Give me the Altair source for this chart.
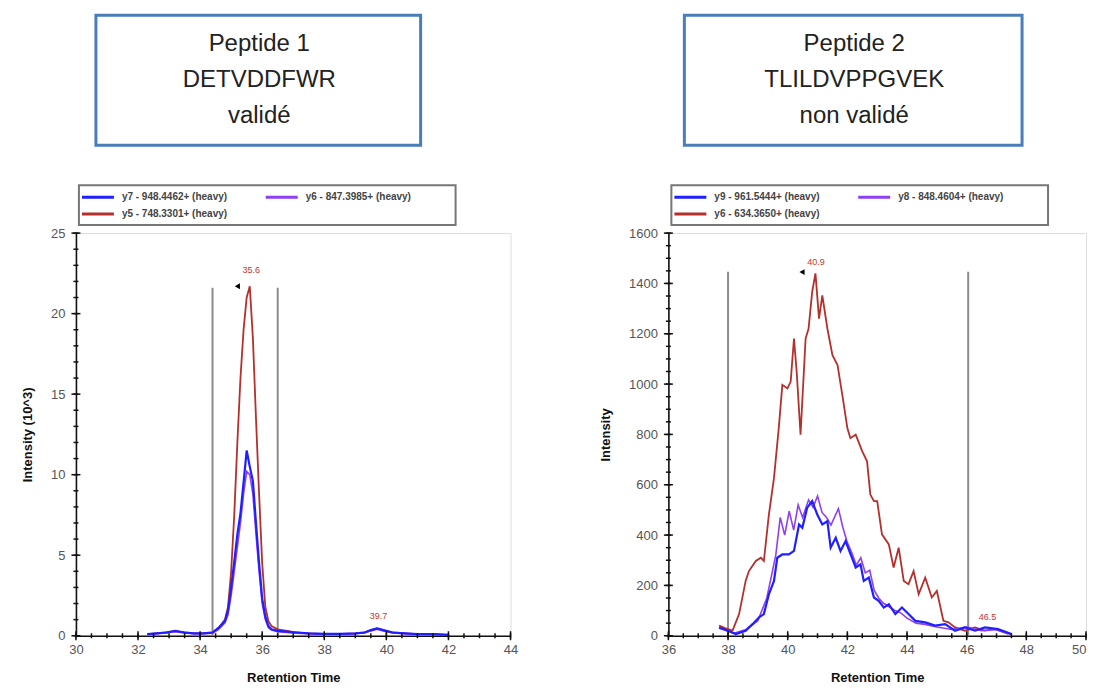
import altair as alt
import pandas as pd

# ---------------- Peptide 1 (DETVDDFWR) ----------------
p1_rt = [32.3, 32.6, 32.9, 33.2, 33.5, 33.8, 34.1, 34.4, 34.6, 34.8, 34.9, 35.0, 35.1, 35.2,
         35.3, 35.4, 35.5, 35.6, 35.7, 35.8, 35.9, 36.0, 36.1, 36.2, 36.3, 36.5, 36.8, 37.1,
         37.5, 38.0, 38.5, 39.0, 39.3, 39.5, 39.7, 39.9, 40.2, 40.6, 41.0, 41.5, 42.0]
p1_y5 = [0.1, 0.15, 0.2, 0.3, 0.2, 0.15, 0.15, 0.2, 0.5, 1.0, 1.8, 4.0, 7.5, 12.0,
         16.0, 19.0, 21.0, 21.7, 18.5, 13.5, 8.8, 4.5, 1.8, 0.9, 0.6, 0.4, 0.3, 0.2,
         0.15, 0.1, 0.1, 0.15, 0.2, 0.35, 0.45, 0.35, 0.2, 0.15, 0.1, 0.1, 0.05]
p1_y6 = [0.1, 0.12, 0.18, 0.25, 0.18, 0.12, 0.12, 0.15, 0.4, 0.8, 1.3, 2.5, 4.0, 5.5,
         7.0, 8.8, 10.2, 10.0, 8.8, 6.3, 4.0, 2.0, 1.0, 0.5, 0.35, 0.25, 0.2, 0.15,
         0.12, 0.1, 0.1, 0.12, 0.18, 0.3, 0.4, 0.3, 0.18, 0.12, 0.1, 0.08, 0.05]
p1_y7 = [0.1, 0.15, 0.2, 0.3, 0.2, 0.15, 0.15, 0.2, 0.5, 0.9, 1.6, 3.0, 4.6, 6.3,
         7.6, 9.5, 11.5, 10.5, 9.6, 7.0, 4.5, 2.3, 1.2, 0.6, 0.4, 0.3, 0.25, 0.2,
         0.15, 0.12, 0.12, 0.15, 0.2, 0.35, 0.45, 0.35, 0.2, 0.15, 0.1, 0.1, 0.05]
p1_labels = ["y7 - 948.4462+ (heavy)", "y6 - 847.3985+ (heavy)", "y5 - 748.3301+ (heavy)"]
p1_bounds = [34.4, 36.5]
p1_bound_top = 21.6
p1_ann_rt = [35.65, 39.75]
p1_ann_int = [22.7, 1.25]
p1_ann_text = ["35.6", "39.7"]
p1_arrow = [35.2, 21.7]
p1_title = "Peptide 1\nDETVDDFWR\nvalidé"

# ---------------- Peptide 2 (TLILDVPPGVEK) ----------------
p2_y6_rt = [37.70, 37.9, 38.15, 38.37, 38.59, 38.70, 38.93, 39.10, 39.20, 39.37, 39.54, 39.70,
            39.82, 39.99, 40.10, 40.21, 40.30, 40.43, 40.60, 40.70, 40.82, 40.93, 41.05, 41.16,
            41.33, 41.50, 41.67, 41.83, 42.00, 42.10, 42.28, 42.50, 42.66, 42.77, 42.89, 43.00,
            43.16, 43.39, 43.55, 43.72, 43.89, 44.05, 44.22, 44.39, 44.61, 44.83, 45.00, 45.22,
            45.39, 45.61, 45.94, 46.28, 46.61, 46.94, 47.40]
p2_y6 = [40, 30, 20, 86, 218, 257, 297, 310, 297, 482, 627, 825,
         997, 983, 1010, 1181, 1050, 799, 1181, 1221, 1366, 1440, 1260, 1353,
         1221, 1115, 1076, 957, 825, 785, 799, 733, 693, 561, 535, 535,
         403, 363, 271, 350, 218, 205, 257, 165, 231, 152, 178, 59,
         53, 33, 20, 33, 20, 26, 7]
p2_y9_rt = [37.70, 38.0, 38.26, 38.59, 38.82, 39.04, 39.20, 39.37, 39.54, 39.65, 39.82, 40.04,
            40.21, 40.38, 40.49, 40.65, 40.82, 40.99, 41.16, 41.33, 41.44, 41.61, 41.77, 41.94,
            42.11, 42.28, 42.44, 42.55, 42.72, 42.89, 43.05, 43.22, 43.39, 43.61, 43.83, 44.05,
            44.28, 44.61, 44.94, 45.28, 45.61, 45.94, 46.28, 46.61, 47.05, 47.50]
p2_y9 = [33, 20, 7, 20, 46, 73, 86, 165, 218, 310, 323, 323,
         337, 442, 429, 508, 535, 482, 442, 455, 350, 389, 337, 376,
         323, 271, 284, 218, 231, 152, 139, 112, 125, 86, 112, 86,
         59, 53, 40, 46, 20, 33, 20, 33, 26, 7]
p2_y8_rt = [37.7, 38.2, 38.6, 39.0, 39.3, 39.6, 39.75, 39.9, 40.05, 40.2, 40.35, 40.5, 40.7,
            40.85, 41.0, 41.15, 41.3, 41.45, 41.7, 41.85, 42.0, 42.15, 42.3, 42.45, 42.6, 42.75,
            42.9, 43.05, 43.2, 43.4, 43.6, 43.8, 44.0, 44.3, 44.6, 45.0, 45.5, 46.0, 46.5, 47.0, 47.5]
p2_y8 = [30, 10, 25, 60, 150, 320, 470, 400, 495, 420, 520, 470, 540,
         510, 555, 490, 470, 440, 505, 430, 370, 330, 280, 310, 250, 260,
         180, 150, 130, 115, 100, 90, 70, 50, 45, 35, 25, 35, 20, 25, 5]
p2_labels = ["y9 - 961.5444+ (heavy)", "y8 - 848.4604+ (heavy)", "y6 - 634.3650+ (heavy)"]
p2_bounds = [38.0, 46.05]
p2_bound_top = 1446
p2_ann_rt = [40.95, 46.7]
p2_ann_int = [1485, 75]
p2_ann_text = ["40.9", "46.5"]
p2_arrow = [40.48, 1445]
p2_title = "Peptide  2\nTLILDVPPGVEK\nnon validé"

BLUE = "#1f1fff"
PURPLE = "#9040ee"
RED = "#b3302c"
H = 403


def frame(rt, vals, series):
    return pd.DataFrame({"rt": rt, "intensity": vals, "series": series})


def panel(series_list, xdom, ydom, xticks, xminor, yticks, yminor, width, ytitle,
          bounds, btop, ann_rt, ann_int, ann_text, arrow, title, labels, box_x, box_w,
          last_right=False):
    xs = alt.Scale(domain=xdom, nice=False, zero=False)
    ys = alt.Scale(domain=ydom, nice=False, zero=False)
    xaxis_kw = dict(
        values=xticks, title="Retention Time", ticks=False, tickSize=0, grid=False,
        labelFlush=False, labelOverlap=False,
        format="d", domainColor="#111", domainWidth=1.6, labelColor="#555", labelFontSize=13,
        labelFont="Liberation Sans", labelPadding=8, titleFont="Liberation Sans",
        titleFontSize=13, titleFontWeight="bold", titleColor="#111", titlePadding=15)
    if last_right:
        xaxis_kw["labelAlign"] = alt.ExprRef(
            expr="datum.value == %d ? 'right' : 'center'" % xdom[1])
    X = alt.X("rt:Q", scale=xs, axis=alt.Axis(**xaxis_kw))
    Y = alt.Y("intensity:Q", scale=ys, axis=alt.Axis(
        values=yticks, title=ytitle, ticks=False, tickSize=0, grid=False,
        labelFlush=False, labelOverlap=False,
        format="d", domainColor="#111", domainWidth=1.6, labelColor="#555", labelFontSize=13,
        labelFont="Liberation Sans", labelPadding=11, titleFont="Liberation Sans",
        titleFontSize=13, titleFontWeight="bold", titleColor="#111", titlePadding=16))

    layers = []
    # title box
    tb = alt.Chart(pd.DataFrame({"t": [title]}))
    layers.append(tb.mark_rect(fill="white", stroke="#4a7ebb", strokeWidth=3).encode(
        x=alt.value(box_x), x2=alt.value(box_x + box_w), y=alt.value(-218), y2=alt.value(-88)))
    layers.append(tb.mark_text(lineBreak="\n", lineHeight=36, fontSize=24,
                               font="Liberation Sans", color="#222", baseline="middle").encode(
        x=alt.value(box_x + box_w / 2 + 1), y=alt.value(-189), text="t:N"))
    # legend box
    lb = alt.Chart(pd.DataFrame({"a": [0]}))
    layers.append(lb.mark_rect(fill="white", stroke="#777", strokeWidth=2).encode(
        x=alt.value(3), x2=alt.value(380), y=alt.value(-48), y2=alt.value(-8)))
    leg = [(BLUE, 6, -36, labels[0]), (PURPLE, 190, -36, labels[1]), (RED, 6, -19, labels[2])]
    for col, lx, ly, txt in leg:
        ld = alt.Chart(pd.DataFrame({"t": [txt]}))
        layers.append(ld.mark_rule(color=col, strokeWidth=3).encode(
            x=alt.value(lx), x2=alt.value(lx + 32), y=alt.value(ly)))
        layers.append(ld.mark_text(align="left", baseline="middle", fontSize=10,
                                   font="Liberation Sans", fontWeight="bold", color="#444").encode(
            x=alt.value(lx + 40), y=alt.value(ly), text="t:N"))
    # integration boundaries
    bd = pd.DataFrame({"rt": bounds, "intensity": [btop] * len(bounds)})
    layers.append(alt.Chart(bd).mark_rule(color="#8c8c8c", strokeWidth=2).encode(
        x=X, y=Y, y2=alt.value(H)))
    # traces
    for df, col, sw in series_list:
        layers.append(alt.Chart(df).mark_line(color=col, strokeWidth=sw).encode(x=X, y=Y))
    # axis ticks (major cross the axis, minor are shorter)
    xt_major = pd.DataFrame({"rt": [float(v) for v in xticks]})
    xt_minor = pd.DataFrame({"rt": [float(v) for v in xminor]})
    yt_major = pd.DataFrame({"intensity": [float(v) for v in yticks]})
    yt_minor = pd.DataFrame({"intensity": [float(v) for v in yminor]})
    layers.append(alt.Chart(xt_major).mark_tick(color="#111", thickness=1.5, size=9,
                                                orient="vertical", opacity=1).encode(
        x=X, y=alt.value(H)))
    layers.append(alt.Chart(xt_minor).mark_tick(color="#111", thickness=1.5, size=5,
                                                orient="vertical", opacity=1).encode(
        x=X, y=alt.value(H)))
    layers.append(alt.Chart(yt_major).mark_tick(color="#111", thickness=1.5, size=9,
                                                orient="horizontal", opacity=1).encode(
        y=Y, x=alt.value(0)))
    layers.append(alt.Chart(yt_minor).mark_tick(color="#111", thickness=1.5, size=5,
                                                orient="horizontal", opacity=1).encode(
        y=Y, x=alt.value(0)))
    # annotations
    ad = pd.DataFrame({"rt": ann_rt, "intensity": ann_int, "txt": ann_text})
    layers.append(alt.Chart(ad).mark_text(color="#c0392b", fontSize=9,
                                          font="Liberation Sans").encode(x=X, y=Y, text="txt:N"))
    ar = pd.DataFrame({"rt": [arrow[0]], "intensity": [arrow[1]]})
    layers.append(alt.Chart(ar).mark_point(shape="triangle-left", filled=True, color="black",
                                           size=35, opacity=1).encode(x=X, y=Y))
    return alt.layer(*layers).properties(width=width, height=H)


left = panel(
    [(frame(p1_rt, p1_y5, "y5"), RED, 1.8), (frame(p1_rt, p1_y6, "y6"), PURPLE, 1.6),
     (frame(p1_rt, p1_y7, "y7"), BLUE, 2.2)],
    [30, 44], [0, 25], list(range(30, 45, 2)), [30 + 0.5 * i for i in range(29)],
    [0, 5, 10, 15, 20, 25], list(range(0, 26)), 435, "Intensity (10^3)",
    p1_bounds, p1_bound_top, p1_ann_rt, p1_ann_int, p1_ann_text, p1_arrow, p1_title,
    p1_labels, 20, 325)

right = panel(
    [(frame(p2_y6_rt, p2_y6, "y6"), RED, 1.8), (frame(p2_y8_rt, p2_y8, "y8"), PURPLE, 1.6),
     (frame(p2_y9_rt, p2_y9, "y9"), BLUE, 2.2)],
    [36, 50], [0, 1600], list(range(36, 51, 2)), [36 + 0.5 * i for i in range(29)],
    list(range(0, 1601, 200)), list(range(0, 1601, 50)), 418, "Intensity",
    p2_bounds, p2_bound_top, p2_ann_rt, p2_ann_int, p2_ann_text, p2_arrow, p2_title,
    p2_labels, 16, 338, last_right=True)

chart = alt.hconcat(left, right, spacing=80).properties(
    padding={"left": 13, "top": 5, "right": 0, "bottom": 0}
).configure_view(stroke=None).configure(background="white")

chart.save("out.html", embed_options={"renderer": "svg", "actions": False})
